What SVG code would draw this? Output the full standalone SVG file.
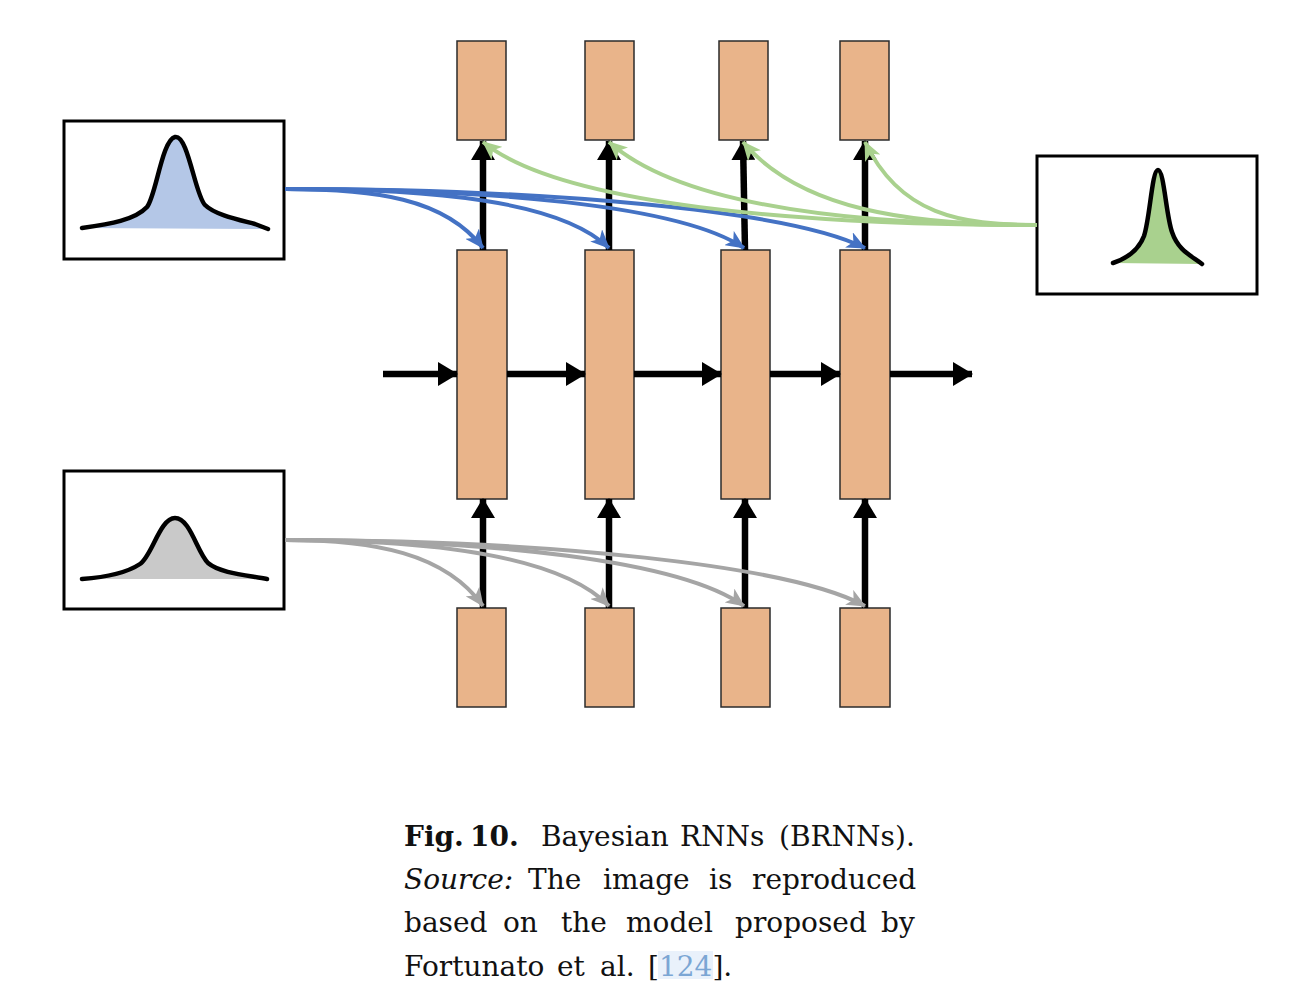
<svg xmlns="http://www.w3.org/2000/svg" width="1316" height="1008" viewBox="0 0 1316 1008">
<style>
.cell{fill:#E9B48A;stroke:#2b2b2b;stroke-width:1.5}
.dbox{fill:#fff;stroke:#000;stroke-width:3}
.curve{fill:none;stroke:#000;stroke-width:4.5;stroke-linecap:round;stroke-linejoin:round}
.blk{fill:none;stroke:#000;stroke-width:6.5}
.blue{fill:none;stroke:#4472C4;stroke-width:4}
.green{fill:none;stroke:#A9D18E;stroke-width:4}
.gray{fill:none;stroke:#A5A5A5;stroke-width:4}
.cap{font-family:"DejaVu Serif","Liberation Serif",serif;font-size:28px;fill:#111}
</style>
<defs>
<marker id="ab" markerUnits="userSpaceOnUse" markerWidth="20" markerHeight="24" viewBox="0 0 20 24" refX="19" refY="12" orient="auto"><path d="M0,0 L20,12 L0,24 z" fill="#000"/></marker>
<marker id="mb" markerUnits="userSpaceOnUse" markerWidth="19" markerHeight="17" viewBox="0 0 19 17" refX="18" refY="8.5" orient="auto"><path d="M0,0 L19,8.5 L0,17 L5,8.5 z" fill="#4472C4"/></marker>
<marker id="mg" markerUnits="userSpaceOnUse" markerWidth="19" markerHeight="17" viewBox="0 0 19 17" refX="18" refY="8.5" orient="auto"><path d="M0,0 L19,8.5 L0,17 L5,8.5 z" fill="#A9D18E"/></marker>
<marker id="mr" markerUnits="userSpaceOnUse" markerWidth="19" markerHeight="17" viewBox="0 0 19 17" refX="18" refY="8.5" orient="auto"><path d="M0,0 L19,8.5 L0,17 L5,8.5 z" fill="#A5A5A5"/></marker>
</defs>

<g id="out1"><rect class="cell" x="457" y="41" width="49" height="99"/></g>
<g id="out2"><rect class="cell" x="585" y="41" width="49" height="99"/></g>
<g id="out3"><rect class="cell" x="719" y="41" width="49" height="99"/></g>
<g id="out4"><rect class="cell" x="840" y="41" width="49" height="99"/></g>

<g id="h1"><rect class="cell" x="457" y="250" width="50" height="249"/></g>
<g id="h2"><rect class="cell" x="585" y="250" width="49" height="249"/></g>
<g id="h3"><rect class="cell" x="721" y="250" width="49" height="249"/></g>
<g id="h4"><rect class="cell" x="840" y="250" width="50" height="249"/></g>

<g id="in1"><rect class="cell" x="457" y="608" width="49" height="99"/></g>
<g id="in2"><rect class="cell" x="585" y="608" width="49" height="99"/></g>
<g id="in3"><rect class="cell" x="721" y="608" width="49" height="99"/></g>
<g id="in4"><rect class="cell" x="840" y="608" width="50" height="99"/></g>

<g id="dist-blue">
<rect class="dbox" x="64" y="121" width="220" height="138"/>
<path d="M82,228 C110,224 135,220 147,207 C156,196 162,140 175,137 C188,134 195,195 205,205 C215,215 240,220 255,224 L268,229 Z" fill="#B4C7E7"/>
<path class="curve" d="M82,228 C110,224 135,220 147,207 C156,196 162,140 175,137 C188,134 195,195 205,205 C215,215 240,220 255,224 L268,229"/>
</g>
<g id="dist-gray">
<rect class="dbox" x="64" y="471" width="220" height="138"/>
<path d="M82,579 C110,577 128,572 140,564 C152,556 160,518 175,518 C190,518 197,552 208,563 C220,573 245,575 267,579 Z" fill="#C9C9C9"/>
<path class="curve" d="M82,579 C110,577 128,572 140,564 C152,556 160,518 175,518 C190,518 197,552 208,563 C220,573 245,575 267,579"/>
</g>
<g id="dist-green">
<rect class="dbox" x="1037" y="156" width="220" height="138"/>
<path d="M1113,263 C1125,259 1138,252 1144,236 C1150,218 1152,170 1158,170 C1164,170 1166,215 1172,232 C1178,250 1190,255 1202,264 Z" fill="#A9D18E"/>
<path class="curve" d="M1113,263 C1125,259 1138,252 1144,236 C1150,218 1152,170 1158,170 C1164,170 1166,215 1172,232 C1178,250 1190,255 1202,264"/>
</g>

<g id="connectors">
<line class="blk" x1="383" y1="374" x2="457" y2="374" marker-end="url(#ab)"/>
<line class="blk" x1="507" y1="374" x2="585" y2="374" marker-end="url(#ab)"/>
<line class="blk" x1="634" y1="374" x2="721" y2="374" marker-end="url(#ab)"/>
<line class="blk" x1="770" y1="374" x2="840" y2="374" marker-end="url(#ab)"/>
<line class="blk" x1="890" y1="374" x2="972" y2="374" marker-end="url(#ab)"/>

<line class="blk" x1="483" y1="250" x2="483" y2="141" marker-end="url(#ab)"/>
<line class="blk" x1="609" y1="250" x2="609" y2="141" marker-end="url(#ab)"/>
<line class="blk" x1="745" y1="250" x2="743" y2="141" marker-end="url(#ab)"/>
<line class="blk" x1="865" y1="250" x2="865" y2="141" marker-end="url(#ab)"/>

<line class="blk" x1="483" y1="608" x2="483" y2="499" marker-end="url(#ab)"/>
<line class="blk" x1="609" y1="608" x2="609" y2="499" marker-end="url(#ab)"/>
<line class="blk" x1="745" y1="608" x2="745" y2="499" marker-end="url(#ab)"/>
<line class="blk" x1="865" y1="608" x2="865" y2="499" marker-end="url(#ab)"/>

<path class="blue" d="M285,189 C374,189 445,198 483,248" marker-end="url(#mb)"/>
<path class="blue" d="M285,189 C430,189 560,200 609,248" marker-end="url(#mb)"/>
<path class="blue" d="M285,189 C490,189 680,205 744,248" marker-end="url(#mb)"/>
<path class="blue" d="M285,189 C546,189 790,210 865,248" marker-end="url(#mb)"/>

<path class="green" d="M1037,225 C800,225 560,205 483,142" marker-end="url(#mg)"/>
<path class="green" d="M1037,225 C850,225 680,205 609,142" marker-end="url(#mg)"/>
<path class="green" d="M1037,225 C910,225 800,210 743,142" marker-end="url(#mg)"/>
<path class="green" d="M1037,225 C960,225 900,215 865,142" marker-end="url(#mg)"/>

<path class="gray" d="M285,540 C374,540 445,553 483,606" marker-end="url(#mr)"/>
<path class="gray" d="M285,540 C430,540 560,555 609,606" marker-end="url(#mr)"/>
<path class="gray" d="M285,540 C490,540 680,560 744,606" marker-end="url(#mr)"/>
<path class="gray" d="M285,540 C546,540 790,565 865,606" marker-end="url(#mr)"/>
</g>

<g id="caption" class="cap">
<text y="846" font-weight="bold"><tspan x="404">Fig.</tspan><tspan x="470">10.</tspan></text>
<text y="846"><tspan x="541">Bayesian</tspan><tspan x="680">RNNs</tspan><tspan x="779">(BRNNs).</tspan></text>
<text y="889"><tspan x="404" font-style="italic">Source:</tspan><tspan x="528">The</tspan><tspan x="603">image</tspan><tspan x="709">is</tspan><tspan x="752">reproduced</tspan></text>
<text y="932"><tspan x="404">based</tspan><tspan x="503">on</tspan><tspan x="561">the</tspan><tspan x="626">model</tspan><tspan x="735">proposed</tspan><tspan x="881">by</tspan></text>
<rect x="658" y="951" width="55" height="28" fill="#E9F1FB"/>
<text y="976"><tspan x="404">Fortunato</tspan><tspan x="557">et</tspan><tspan x="600">al.</tspan><tspan x="648">[<tspan fill="#7BA6D4">124</tspan>].</tspan></text>
</g>
</svg>
